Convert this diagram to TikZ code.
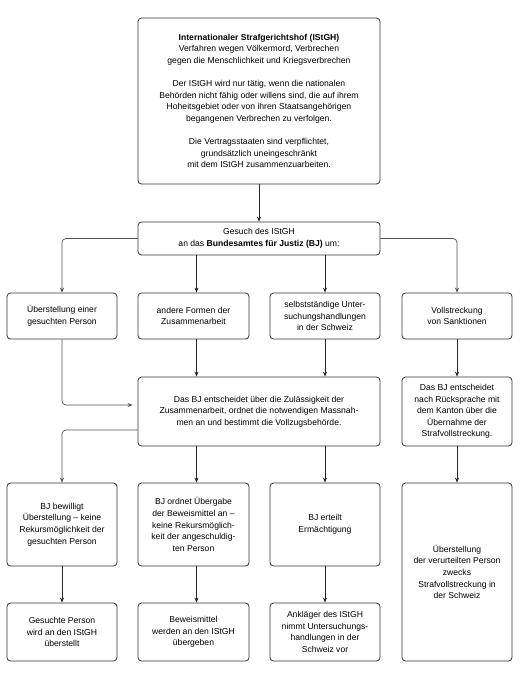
\documentclass[tikz,border=0pt]{standalone}
\usepackage{fontspec}
\setmainfont{Liberation Sans}
\usetikzlibrary{arrows.meta,calc}
\begin{document}
\begin{tikzpicture}[x=1pt,y=-1pt,
  box/.style={draw=black!80,line width=0.8pt,rounded corners=3.5pt,align=center,
    inner sep=2pt,font=\fontsize{8.6pt}{11.6pt}\selectfont},
  arr/.style={-{Stealth[length=5pt,width=4pt]},line width=0.7pt,draw=black!85},
  garr/.style={arr,draw=black!68,rounded corners=4pt}]
\useasboundingbox (0,0) rectangle (520,681);
\node[box,minimum width=242pt,minimum height=166pt] (top) at (259,101)
 {\textbf{Internationaler Strafgerichtshof (IStGH)}\\Verfahren wegen Völkermord, Verbrechen\\gegen die Menschlichkeit und Kriegsverbrechen\\[11.6pt]
 Der IStGH wird nur tätig, wenn die nationalen\\Behörden nicht fähig oder willens sind, die auf ihrem\\Hoheitsgebiet oder von ihren Staatsangehörigen\\begangenen Verbrechen zu verfolgen.\\[11.6pt]
 Die Vertragsstaaten sind verpflichtet,\\grundsätzlich uneingeschränkt\\mit dem IStGH zusammenzuarbeiten.};
\node[box,minimum width=242pt,minimum height=33pt] (ges) at (259,238.5)
 {Gesuch des IStGH\\an das \textbf{Bundesamtes für Justiz (BJ)} um:};
\node[box,minimum width=110pt,minimum height=46pt] (r2a) at (62,316) {Überstellung einer\\gesuchten Person};
\node[box,minimum width=111pt,minimum height=46pt] (r2b) at (193.5,316) {andere Formen der\\Zusammenarbeit};
\node[box,minimum width=110pt,minimum height=46pt] (r2c) at (325,316) {selbstständige Unter-\\suchungshandlungen\\in der Schweiz};
\node[box,minimum width=110pt,minimum height=46pt] (r2d) at (457,316) {Vollstreckung\\von Sanktionen};
\node[box,minimum width=242pt,minimum height=69pt] (mid) at (259,411.5)
 {Das BJ entscheidet über die Zulässigkeit der\\Zusammenarbeit, ordnet die notwendigen Massnah-\\men an und bestimmt die Vollzugsbehörde.};
\node[box,minimum width=110pt,minimum height=69pt] (r3d) at (457,411.5)
 {Das BJ entscheidet\\nach Rücksprache mit\\dem Kanton über die\\Übernahme der\\Strafvollstreckung.};
\node[box,minimum width=110pt,minimum height=83pt] (r4a) at (62,524.5)
 {BJ bewilligt\\Überstellung – keine\\Rekursmöglichkeit der\\gesuchten Person};
\node[box,minimum width=111pt,minimum height=83pt] (r4b) at (193.5,524.5)
 {BJ ordnet Übergabe\\der Beweismittel an –\\keine Rekursmöglich-\\keit der angeschuldig-\\ten Person};
\node[box,minimum width=110pt,minimum height=83pt] (r4c) at (325,524.5)
 {BJ erteilt\\Ermächtigung};
\node[box,minimum width=110pt,minimum height=178pt] (r4d) at (457,572)
 {Überstellung\\der verurteilten Person\\zwecks\\Strafvollstreckung in\\der Schweiz};
\node[box,minimum width=110pt,minimum height=58pt] (r5a) at (62,632)
 {Gesuchte Person\\wird an den IStGH\\überstellt};
\node[box,minimum width=111pt,minimum height=58pt] (r5b) at (193.5,632)
 {Beweismittel\\werden an den IStGH\\übergeben};
\node[box,minimum width=110pt,minimum height=58pt] (r5c) at (325,632)
 {Ankläger des IStGH\\nimmt Untersuchungs-\\handlungen in der\\Schweiz vor};
\draw[arr] (top.south) -- (ges.north);
\draw[garr] (ges.west) -| (r2a.north);
\draw[garr] (ges.east) -| (r2d.north);
\draw[arr] ([xshift=3pt]r2b.north |- ges.south) -- ([xshift=3pt]r2b.north);
\draw[arr] (r2c.north |- ges.south) -- (r2c.north);
\draw[arr] ([xshift=3pt]r2b.south) -- ([xshift=3pt]r2b.south |- mid.north);
\draw[arr] (r2c.south) -- (r2c.south |- mid.north);
\draw[garr,shorten >=5pt] (r2a.south) |- ([yshift=6.5pt]mid.west);
\draw[arr] (r2d.south) -- (r3d.north);
\draw[garr] ([yshift=-18.5pt]mid.west) -| (r4a.north);
\draw[arr] ([xshift=3pt]r4b.north |- mid.south) -- ([xshift=3pt]r4b.north);
\draw[arr] (r4c.north |- mid.south) -- (r4c.north);
\draw[arr] (r3d.south) -- (r4d.north);
\draw[arr] (r4a.south) -- (r5a.north);
\draw[arr] ([xshift=3pt]r4b.south) -- ([xshift=3pt]r5b.north);
\draw[arr] (r4c.south) -- (r5c.north);
\end{tikzpicture}
\end{document}
